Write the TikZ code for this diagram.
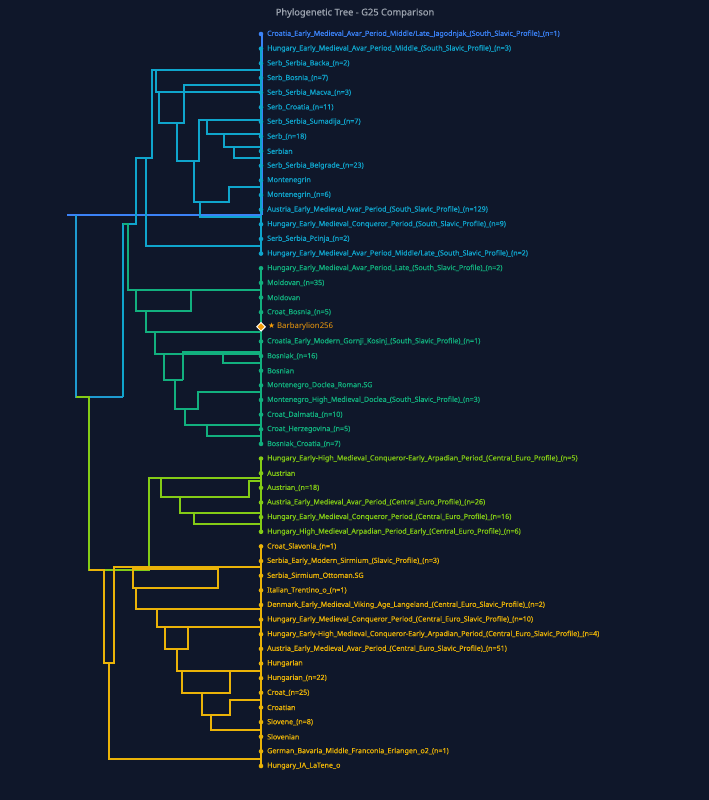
\documentclass[tikz,border=0pt]{standalone}
\usepackage{fontspec}
\setmainfont{Noto Sans}
\newfontfamily\symfont{DejaVu Sans}
\usepackage{tikz}
\usetikzlibrary{positioning,shapes.geometric}
\definecolor{treebg}{HTML}{0F172A}
\definecolor{ttitle}{HTML}{9CA3AF}
\definecolor{tblue}{HTML}{3B82F6}
\definecolor{troot}{HTML}{1E9BD0}
\definecolor{tcyan}{HTML}{0FA5CC}
\definecolor{tgreen}{HTML}{12B07E}
\definecolor{tlime}{HTML}{84CC16}
\definecolor{tamber}{HTML}{EAB308}
\definecolor{torange}{HTML}{F59E0B}
\tikzset{
  leaf/.style={circle, fill=#1, inner sep=0pt, minimum size=4.6pt},
  lab/.style={anchor=west, inner sep=0pt, font=\fontsize{7.1}{8}\selectfont\addfontfeature{FakeBold=0.6}},
  br/.style={draw=#1, line width=1.8pt},
}
\catcode`\_=12
\begin{document}
\begin{tikzpicture}[x=1pt, y=-1pt]
  \useasboundingbox (0,0) rectangle (709,800);
  \fill[treebg] (0,0) rectangle (709,800);
  \node[text=ttitle, font=\fontsize{9.3}{11}\selectfont\addfontfeature{FakeBold=0.6}] (title) at (355,13) {Phylogenetic Tree - G25 Comparison};

  % leaf stems
  \draw[br=tblue, line width=1.3pt] (262,34) -- (262,215);
  \draw[br=tcyan] (261,49) -- (261,254);
  \draw[br=tgreen] (261,268) -- (261,444);
  \draw[br=tlime] (261,459) -- (261,532);
  \draw[br=tamber] (261,546) -- (261,766);

  % root and upper cluster
  \draw[br=tblue, line width=1.3pt] (67,215) -- (261,215);
  \draw[br=troot] (76,215) -- (76,397) -- (123,397);
  \draw[br=tcyan] (123,397) -- (123,224) -- (136,224) -- (136,158) -- (152,158) -- (152,70) -- (261,70);
  \draw[br=tcyan] (156,70) -- (156,92) -- (261,92);
  \draw[br=tcyan] (159,92) -- (159,123) -- (184,123) -- (184,85) -- (261,85);
  \draw[br=tcyan] (177,123) -- (177,161) -- (199,161) -- (199,120) -- (261,120);
  \draw[br=tcyan] (207,120) -- (207,134) -- (261,134);
  \draw[br=tcyan] (224,134) -- (224,147) -- (261,147);
  \draw[br=tcyan] (234,147) -- (234,158) -- (261,158);
  \draw[br=tcyan] (194,161) -- (194,202) -- (229,202) -- (229,187) -- (261,187);
  \draw[br=tcyan] (200,202) -- (200,217) -- (261,217);
  \draw[br=tcyan] (146,158) -- (146,246) -- (261,246);

  % green cluster
  \draw[br=tgreen] (123,224) -- (128,224) -- (128,290) -- (261,290);
  \draw[br=tgreen] (191,290) -- (191,311) -- (136,311) -- (136,290);
  \draw[br=tgreen] (146,311) -- (146,332) -- (261,332);
  \draw[br=tgreen] (155,332) -- (155,354) -- (261,354);
  \draw[br=tgreen] (183,380) -- (183,352) -- (261,352);
  \draw[br=tgreen] (223,354) -- (223,363) -- (261,363);
  \draw[br=tgreen] (164,354) -- (164,380) -- (183,380);
  \draw[br=tgreen] (175,380) -- (175,409) -- (198,409) -- (198,392) -- (261,392);
  \draw[br=tgreen] (185,409) -- (185,425) -- (261,425);
  \draw[br=tgreen] (207,425) -- (207,436) -- (261,436);

  % lime cluster
  \draw[br=tlime] (76,397) -- (89,397) -- (89,570) -- (149,570) -- (149,478) -- (261,478);
  \draw[br=tlime] (161,478) -- (161,497) -- (249,497) -- (249,481) -- (261,481);
  \draw[br=tlime] (180,497) -- (180,513) -- (261,513);
  \draw[br=tlime] (194,513) -- (194,524) -- (261,524);

  % amber cluster
  \draw[br=tamber] (89,570) -- (104,570) -- (104,663) -- (114,663) -- (114,567) -- (261,567);
  \draw[br=tamber] (133,569) -- (218,569) -- (218,588) -- (133,588) -- cycle;
  \draw[br=tamber] (136,588) -- (136,609) -- (261,609);
  \draw[br=tamber] (157,609) -- (157,627) -- (261,627);
  \draw[br=tamber] (188,627) -- (188,649) -- (165,649) -- (165,627);
  \draw[br=tamber] (177,649) -- (177,671) -- (261,671);
  \draw[br=tamber] (230,671) -- (230,693) -- (182,693) -- (182,671);
  \draw[br=tamber] (202,693) -- (202,715) -- (230,715) -- (230,700) -- (261,700);
  \draw[br=tamber] (211,715) -- (211,730) -- (261,730);
  \draw[br=tamber] (109,663) -- (109,759) -- (261,759);

  % leaves
  \node[leaf=tblue] (d1) at (261,34) {};
  \node[lab, text=tblue, right=3.5pt of d1] (n1) {Croatia_Early_Medieval_Avar_Period_Middle/Late_Jagodnjak_(South_Slavic_Profile)_(n=1)};
  \foreach \t [count=\i from 2] in {Hungary_Early_Medieval_Avar_Period_Middle_(South_Slavic_Profile)_(n=3), Serb_Serbia_Backa_(n=2), Serb_Bosnia_(n=7), Serb_Serbia_Macva_(n=3), Serb_Croatia_(n=11), Serb_Serbia_Sumadija_(n=7), Serb_(n=18), Serbian, Serb_Serbia_Belgrade_(n=23), Montenegrin, Montenegrin_(n=6), Austria_Early_Medieval_Avar_Period_(South_Slavic_Profile)_(n=129), Hungary_Early_Medieval_Conqueror_Period_(South_Slavic_Profile)_(n=9), Serb_Serbia_Pcinja_(n=2), Hungary_Early_Medieval_Avar_Period_Middle/Late_(South_Slavic_Profile)_(n=2)} {
    \node[leaf=tcyan] (d\i) at (261,{34+(\i-1)*14.64}) {};
    \node[lab, text=tcyan, right=3.5pt of d\i] (n\i) {\t};
  }
  \foreach \t [count=\i from 17] in {Hungary_Early_Medieval_Avar_Period_Late_(South_Slavic_Profile)_(n=2), Moldovan_(n=35), Moldovan, Croat_Bosnia_(n=5)} {
    \node[leaf=tgreen] (d\i) at (261,{34+(\i-1)*14.64}) {};
    \node[lab, text=tgreen, right=3.5pt of d\i] (n\i) {\t};
  }
  \node[diamond, fill=torange, draw=white, line width=0.9pt, inner sep=0pt, minimum size=9pt] (d21) at (261,{34+20*14.64}) {};
  \node[lab, text=torange, font=\fontsize{7.8}{8}\selectfont\bfseries, right=2pt of d21] (n21) {{\symfont ★} Barbarylion256};
  \foreach \t [count=\i from 22] in {Croatia_Early_Modern_Gornji_Kosinj_(South_Slavic_Profile)_(n=1), Bosniak_(n=16), Bosnian, Montenegro_Doclea_Roman.SG, Montenegro_High_Medieval_Doclea_(South_Slavic_Profile)_(n=3), Croat_Dalmatia_(n=10), Croat_Herzegovina_(n=5), Bosniak_Croatia_(n=7)} {
    \node[leaf=tgreen] (d\i) at (261,{34+(\i-1)*14.64}) {};
    \node[lab, text=tgreen, right=3.5pt of d\i] (n\i) {\t};
  }
  \foreach \t [count=\i from 30] in {Hungary_Early-High_Medieval_Conqueror-Early_Arpadian_Period_(Central_Euro_Profile)_(n=5), Austrian, Austrian_(n=18), Austria_Early_Medieval_Avar_Period_(Central_Euro_Profile)_(n=26), Hungary_Early_Medieval_Conqueror_Period_(Central_Euro_Profile)_(n=16), Hungary_High_Medieval_Arpadian_Period_Early_(Central_Euro_Profile)_(n=6)} {
    \node[leaf=tlime] (d\i) at (261,{34+(\i-1)*14.64}) {};
    \node[lab, text=tlime, right=3.5pt of d\i] (n\i) {\t};
  }
  \foreach \t [count=\i from 36] in {Croat_Slavonia_(n=1), Serbia_Early_Modern_Sirmium_(Slavic_Profile)_(n=3), Serbia_Sirmium_Ottoman.SG, Italian_Trentino_o_(n=1), Denmark_Early_Medieval_Viking_Age_Langeland_(Central_Euro_Slavic_Profile)_(n=2), Hungary_Early_Medieval_Conqueror_Period_(Central_Euro_Slavic_Profile)_(n=10), Hungary_Early-High_Medieval_Conqueror-Early_Arpadian_Period_(Central_Euro_Slavic_Profile)_(n=4), Austria_Early_Medieval_Avar_Period_(Central_Euro_Slavic_Profile)_(n=51), Hungarian, Hungarian_(n=22), Croat_(n=25), Croatian, Slovene_(n=8), Slovenian, German_Bavaria_Middle_Franconia_Erlangen_o2_(n=1), Hungary_IA_LaTene_o} {
    \node[leaf=tamber] (d\i) at (261,{34+(\i-1)*14.64}) {};
    \node[lab, text=tamber, right=3.5pt of d\i] (n\i) {\t};
  }
\end{tikzpicture}
\end{document}
